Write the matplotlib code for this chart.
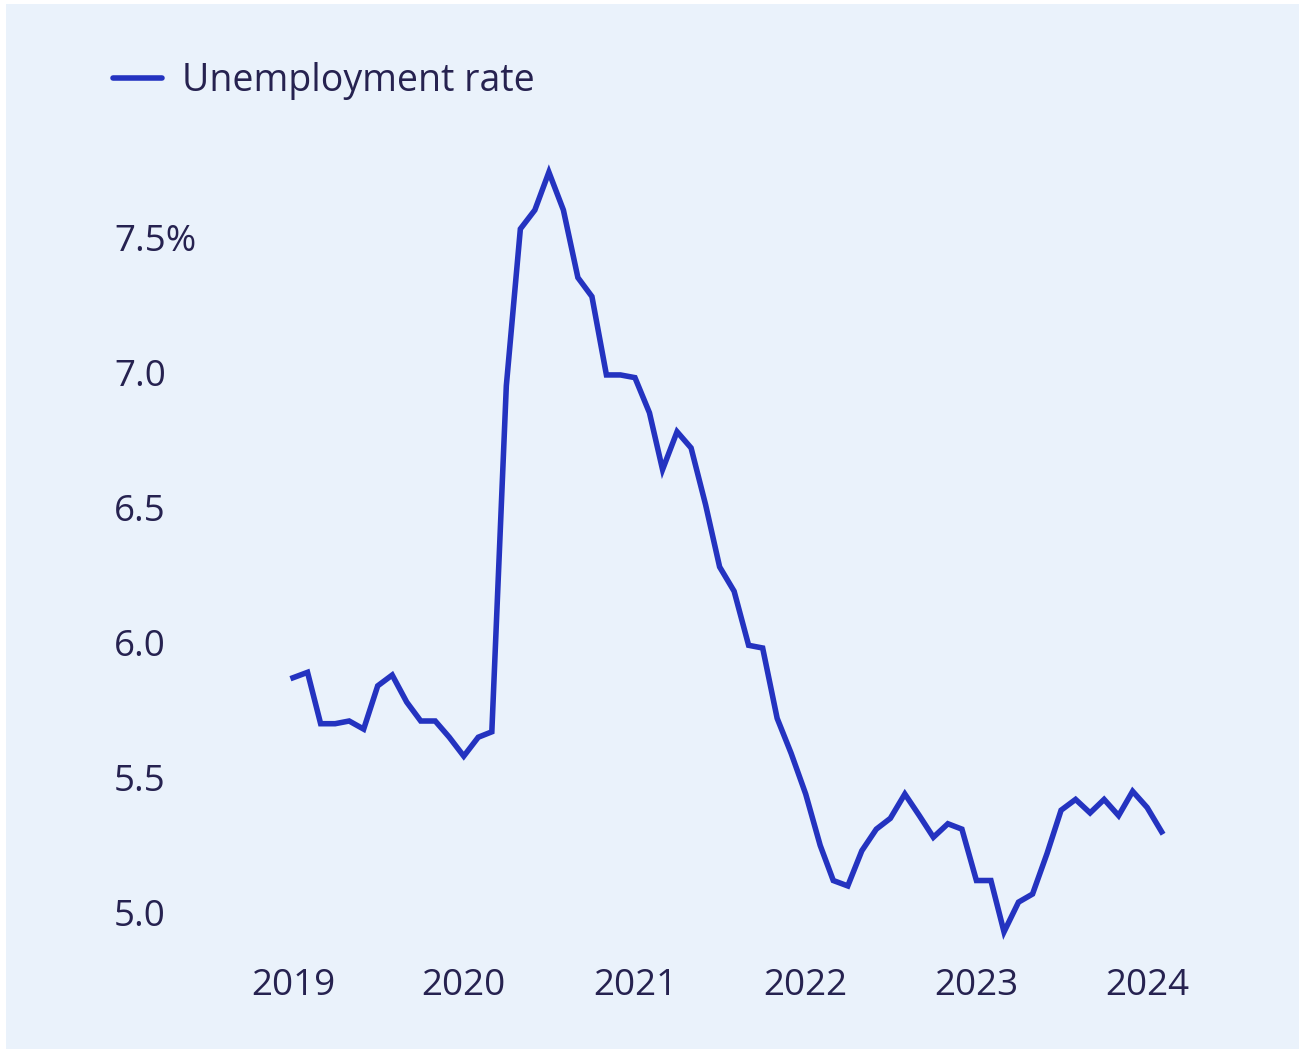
"""
Unemployment rate line chart
Monthly values, Jan 2019 - Feb 2024
"""

import matplotlib.pyplot as plt
import pandas as pd

# Monthly unemployment rate (%)
start_month = '2019-01-01'
rate = [
    5.87, 5.89, 5.70, 5.70, 5.71, 5.68, 5.84, 5.88, 5.78, 5.71, 5.71, 5.65,  # 2019
    5.58, 5.65, 5.67, 6.95, 7.53, 7.60, 7.74, 7.60, 7.35, 7.28, 6.99, 6.99,  # 2020
    6.98, 6.85, 6.64, 6.78, 6.72, 6.51, 6.28, 6.19, 5.99, 5.98, 5.72, 5.59,  # 2021
    5.44, 5.25, 5.12, 5.10, 5.23, 5.31, 5.35, 5.44, 5.36, 5.28, 5.33, 5.31,  # 2022
    5.12, 5.12, 4.93, 5.04, 5.07, 5.22, 5.38, 5.42, 5.37, 5.42, 5.36, 5.45,  # 2023
    5.39, 5.30,                                                              # 2024
]
series_label = 'Unemployment rate'

year_ticks = [2019, 2020, 2021, 2022, 2023, 2024]
rate_ticks = [5.0, 5.5, 6.0, 6.5, 7.0, 7.5]
rate_tick_labels = ['5.0', '5.5', '6.0', '6.5', '7.0', '7.5%']

BG = '#eaf2fb'
LINE = '#2433c0'
TEXT = '#262250'

plt.rcParams['font.family'] = ['Open Sans', 'DejaVu Sans']

W, H, DPI = 1302, 1053, 100
fig = plt.figure(figsize=(W / DPI, H / DPI), dpi=DPI, facecolor='white')

# light blue panel with a thin white frame around it
fig.patches.append(plt.Rectangle((6 / W, 4 / H), 1 - 9 / W, 1 - 8 / H,
                                 transform=fig.transFigure, facecolor=BG,
                                 edgecolor='none', zorder=-10))

ax = fig.add_axes([250 / W, 1 - 950 / H, 950 / W, 800 / H])
ax.set_facecolor('none')

months = pd.date_range(start_month, periods=len(rate), freq='MS')
ax.plot(months, rate, color=LINE, linewidth=4.0, solid_joinstyle='miter',
        label=series_label)

# axis ranges
ax.set_xlim(pd.Timestamp('2018-10-01'), pd.Timestamp('2024-04-23'))
ax.set_ylim(4.863, 7.822)

ax.set_xticks([pd.Timestamp(f'{y}-01-01') for y in year_ticks])
ax.set_xticklabels([str(y) for y in year_ticks])
ax.set_yticks(rate_ticks)
ax.set_yticklabels(rate_tick_labels)

ax.tick_params(axis='both', length=0, labelsize=26.5, labelcolor=TEXT)
ax.tick_params(axis='x', pad=13)
ax.tick_params(axis='y', pad=98)
for lbl in ax.get_yticklabels():
    lbl.set_horizontalalignment('left')

for side in ax.spines.values():
    side.set_visible(False)
ax.grid(False)

leg = ax.legend(loc='center left', bbox_to_anchor=(113 / W, 1 - 81 / H),
                bbox_transform=fig.transFigure, frameon=False, fontsize=27,
                handlelength=1.3, handletextpad=0.55, borderpad=0,
                borderaxespad=0)
for t in leg.get_texts():
    t.set_color(TEXT)
for h in leg.get_lines():
    h.set_linewidth(4.0)
    h.set_solid_capstyle('round')

fig.savefig('out.png', dpi=DPI, facecolor='white')
plt.close(fig)
